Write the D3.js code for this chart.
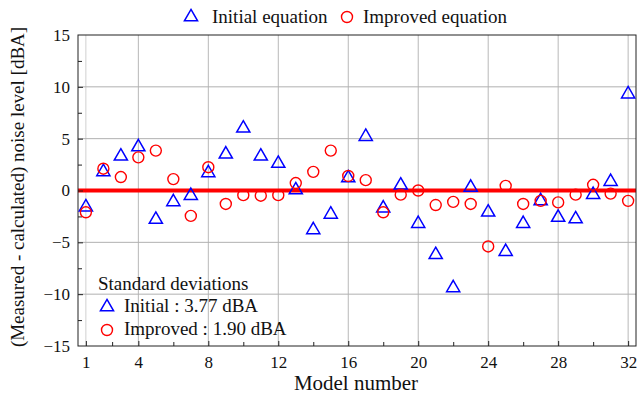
<!DOCTYPE html>
<html>
<head>
<meta charset="utf-8">
<script src="https://cdn.jsdelivr.net/npm/d3@7"></script>
<style>
body{margin:0;background:#fff;}
text{font-family:"Liberation Serif","DejaVu Serif",serif;fill:#111;}
</style>
</head>
<body>
<svg id="chart" width="638" height="398"></svg>
<script>
// model numbers 1..32
var models=d3.range(1,33);
// Initial equation (triangles)
var initial=[-1.6,1.8,3.3,4.2,-2.8,-1.1,-0.5,1.7,3.5,6.0,3.3,2.6,0.05,-3.8,-2.3,1.2,
             5.2,-1.7,0.5,-3.2,-6.2,-9.4,0.3,-2.1,-5.9,-3.2,-1.0,-2.6,-2.75,-0.4,0.85,9.3];
// Improved equation (circles)
var improved=[-2.1,2.1,1.3,3.2,3.85,1.1,-2.45,2.25,-1.3,-0.45,-0.5,-0.45,0.72,1.8,3.85,1.4,
              1.0,-2.1,-0.4,0.0,-1.4,-1.1,-1.3,-5.4,0.45,-1.3,-1.0,-1.15,-0.4,0.55,-0.3,-1.0];
var xTicks=[1,4,8,12,16,20,24,28,32];
var xMinor=[2.5,6,10,14,18,22,26,30];
var yTicks=[-15,-10,-5,0,5,10,15];

var svg=d3.select("#chart");
var L=78,R=636,T=35,B=346;
var x=d3.scaleLinear().domain([0.55,32.45]).range([L,R]);
var y=d3.scaleLinear().domain([-15,15]).range([B,T]);

// grid
var g=svg.append("g");
g.selectAll(".vg").data(xTicks).enter().append("line")
  .attr("x1",d=>x(d)).attr("x2",d=>x(d)).attr("y1",T).attr("y2",B)
  .attr("stroke",d=>d==1?"#d0d0d0":"#b8b8b8").attr("stroke-width",1);
g.selectAll(".hg").data([-10,-5,5,10]).enter().append("line")
  .attr("x1",L).attr("x2",R).attr("y1",d=>y(d)).attr("y2",d=>y(d))
  .attr("stroke","#b0b0b0").attr("stroke-width",1);

// zero line
svg.append("line").attr("x1",L).attr("x2",R).attr("y1",y(0)).attr("y2",y(0))
  .attr("stroke","#ff0000").attr("stroke-width",4);

// axes (ticks inward)
var yAx=d3.axisLeft(y).tickValues(yTicks).tickSize(-5).tickPadding(8);
var yg=svg.append("g").attr("transform","translate("+L+",0)").call(yAx);
yg.selectAll(".tick").filter(d=>d==-15||d==15).select("line").remove();
svg.append("g").attr("transform","translate("+L+",0)")
  .call(d3.axisLeft(y).tickValues(d3.range(-12.5,15,5)).tickSize(-4).tickFormat(""))
  .select(".domain").remove();
var xAx=d3.axisBottom(x).tickValues(xTicks).tickSize(-5).tickPadding(10);
var xg=svg.append("g").attr("transform","translate(0,"+B+")").call(xAx);
svg.append("g").attr("transform","translate(0,"+B+")")
  .call(d3.axisBottom(x).tickValues(xMinor).tickSize(-4).tickFormat(""))
  .select(".domain").remove();
svg.selectAll(".tick text").attr("font-size",17).attr("font-family","Liberation Serif").attr("fill","#111");
svg.selectAll(".tick line").attr("stroke","#222");
svg.selectAll(".domain").remove();

// frame
svg.append("rect").attr("x",L).attr("y",T).attr("width",R-L).attr("height",B-T)
  .attr("fill","none").attr("stroke","#222").attr("stroke-width",1);

// markers
var tri=d3.symbol().type(d3.symbolTriangle).size(75);
svg.append("g").selectAll("path").data(models).enter().append("path")
  .attr("d",tri).attr("transform",(d,i)=>"translate("+x(d)+","+y(initial[i])+")")
  .attr("fill","none").attr("stroke","#0000ff").attr("stroke-width",1.5);
svg.append("g").selectAll("circle").data(models).enter().append("circle")
  .attr("cx",d=>x(d)).attr("cy",(d,i)=>y(improved[i])).attr("r",5.5)
  .attr("fill","none").attr("stroke","#ff0000").attr("stroke-width",1.4);

// top legend
svg.append("path").attr("d",tri).attr("transform","translate(191,17)")
  .attr("fill","none").attr("stroke","#0000ff").attr("stroke-width",1.5);
svg.append("text").attr("x",212).attr("y",23).attr("font-size",19).text("Initial equation");
svg.append("circle").attr("cx",347).attr("cy",17).attr("r",5.5)
  .attr("fill","none").attr("stroke","#ff0000").attr("stroke-width",1.4);
svg.append("text").attr("x",363).attr("y",23).attr("font-size",19).text("Improved equation");

// inner legend
svg.append("text").attr("x",98).attr("y",290).attr("font-size",19).text("Standard deviations");
svg.append("path").attr("d",tri).attr("transform","translate(107,307)")
  .attr("fill","none").attr("stroke","#0000ff").attr("stroke-width",1.5);
svg.append("text").attr("x",124).attr("y",312).attr("font-size",19).text("Initial : 3.77 dBA");
svg.append("circle").attr("cx",107).attr("cy",330).attr("r",5.5)
  .attr("fill","none").attr("stroke","#ff0000").attr("stroke-width",1.4);
svg.append("text").attr("x",124).attr("y",335).attr("font-size",19).text("Improved : 1.90 dBA");

// axis titles
svg.append("text").attr("x",356).attr("y",390).attr("text-anchor","middle")
  .attr("font-size",21).text("Model number");
svg.append("text").attr("transform","translate(24,187) rotate(-90)").attr("text-anchor","middle")
  .attr("font-size",19).text("(Measured - calculated) noise level [dBA]");
</script>
</body>
</html>
